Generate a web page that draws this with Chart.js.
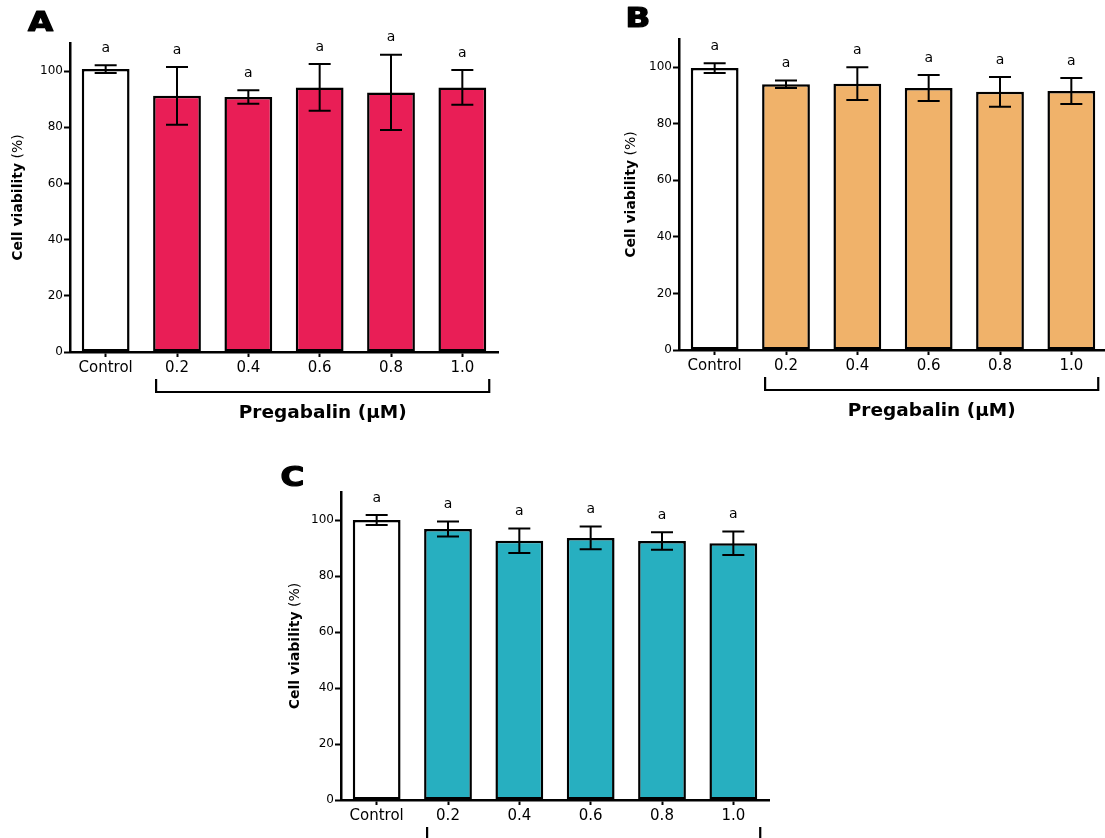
<!DOCTYPE html>
<html>
<head>
<meta charset="utf-8">
<script src="https://cdn.jsdelivr.net/npm/chart.js@4"></script>
<style>
    html, body { margin: 0; padding: 0; background: #fff; overflow: hidden; }
    body { width: 1105px; height: 838px; position: relative; }
    canvas { position: absolute; }
</style>
</head>
<body>
<canvas id="chart-a" width="540" height="440" style="left:0;top:0"></canvas>
<canvas id="chart-b" width="510" height="440" style="left:600px;top:0"></canvas>
<canvas id="chart-c" width="520" height="378" style="left:270px;top:460px"></canvas>
<script>
const categories = ['Control', '0.2', '0.4', '0.6', '0.8', '1.0'];
const yTicks = [0, 20, 40, 60, 80, 100];
const yMax = 110;
const sigLetters = ['a', 'a', 'a', 'a', 'a', 'a'];

const meanA = [100.7, 91.2, 90.8, 94.2, 92.4, 94.2];
const sdA = [1.4, 10.3, 2.4, 8.3, 13.4, 6.2];
const meanB = [99.7, 94.0, 94.2, 92.7, 91.3, 91.6];
const sdB = [1.7, 1.3, 5.8, 4.6, 5.3, 4.6];
const meanC = [100.0, 96.8, 92.6, 93.6, 92.5, 91.7];
const sdC = [1.8, 2.7, 4.4, 4.05, 3.1, 4.2];

const fontFamily = "'DejaVu Sans', 'Liberation Sans', sans-serif";

// per-panel layout (pixel boxes only, no data)
const panels = [
    { id: 'chart-a', letter: 'A', mean: meanA, sd: sdA, color: '#E91E56',
      pad: { left: 20, right: 42, top: 43, bottom: 58 }, letterPos: [40.5, 22.8], titleOffset: 52 },
    { id: 'chart-b', letter: 'B', mean: meanB, sd: sdB, color: '#F0B26A',
      pad: { left: 29, right: 3, top: 39, bottom: 60 }, letterPos: [38, 19.5], titleOffset: 48 },
    { id: 'chart-c', letter: 'C', mean: meanC, sd: sdC, color: '#27AFC0',
      pad: { left: 21, right: 21, top: 32, bottom: 8 }, letterPos: [22.5, 18.3], titleOffset: 46 },
];

const Y_AXIS_W = 50;
const X_AXIS_H = 30;

const decorPlugin = {
    id: 'decor',
    afterDatasetsDraw(chart, args, opts) {
        const { ctx, chartArea } = chart;
        const y = chart.scales.y;
        const meta = chart.getDatasetMeta(0);
        const mean = opts.mean;
        const sd = opts.sd;

        ctx.save();
        ctx.strokeStyle = '#000';
        ctx.lineWidth = 2;
        ctx.fillStyle = '#000';
        ctx.font = `14px ${fontFamily}`;
        ctx.textAlign = 'center';
        ctx.textBaseline = 'middle';
        meta.data.forEach((bar, i) => {
            const cx = bar.x;
            const yHi = y.getPixelForValue(mean[i] + sd[i]);
            const yLo = y.getPixelForValue(mean[i] - sd[i]);
            ctx.beginPath();
            ctx.moveTo(cx, yLo);
            ctx.lineTo(cx, yHi);
            ctx.moveTo(cx - 11, yHi);
            ctx.lineTo(cx + 11, yHi);
            ctx.moveTo(cx - 11, yLo);
            ctx.lineTo(cx + 11, yLo);
            ctx.stroke();
            ctx.fillText(sigLetters[i], cx, yHi - 17);
        });

        // bracket under the pregabalin doses
        const first = meta.data[1];
        const last = meta.data[meta.data.length - 1];
        const bx0 = first.x - first.width / 2 + 3;
        const bx1 = last.x + last.width / 2 + 3;
        const by0 = chartArea.bottom + 27;
        const by1 = chartArea.bottom + 40;
        ctx.lineWidth = 2.2;
        ctx.beginPath();
        ctx.moveTo(bx0, by0);
        ctx.lineTo(bx0, by1);
        ctx.lineTo(bx1, by1);
        ctx.lineTo(bx1, by0);
        ctx.stroke();

        ctx.font = `bold 18.5px ${fontFamily}`;
        ctx.fillText('Pregabalin (µM)', (bx0 + bx1) / 2, chartArea.bottom + 61);

        // y-axis title, bold + regular parts
        const tx = chartArea.left - opts.titleOffset;
        const ty = (chartArea.top + chartArea.bottom) / 2;
        ctx.translate(tx, ty);
        ctx.rotate(-Math.PI / 2);
        const boldPart = 'Cell viability';
        const normPart = ' (%)';
        ctx.font = `bold 14px ${fontFamily}`;
        const wb = ctx.measureText(boldPart).width;
        ctx.font = `14px ${fontFamily}`;
        const wn = ctx.measureText(normPart).width;
        ctx.textAlign = 'left';
        ctx.font = `bold 14px ${fontFamily}`;
        ctx.fillText(boldPart, -(wb + wn) / 2, 0);
        ctx.font = `14px ${fontFamily}`;
        ctx.fillText(normPart, -(wb + wn) / 2 + wb, 0);
        ctx.setTransform(1, 0, 0, 1, 0, 0);

        // panel letter
        ctx.translate(opts.letterPos[0], opts.letterPos[1]);
        ctx.scale(1.25, 1);
        ctx.font = `bold 26px ${fontFamily}`;
        ctx.textAlign = 'center';
        ctx.textBaseline = 'middle';
        ctx.lineWidth = 1.2;
        ctx.lineJoin = 'round';
        ctx.fillText(opts.letter, 0, 1);
        ctx.strokeText(opts.letter, 0, 1);
        ctx.restore();
    },
};

function buildPanel(p) {
    const canvas = document.getElementById(p.id);
    return new Chart(canvas, {
        type: 'bar',
        data: {
            labels: categories,
            datasets: [
                {
                    data: p.mean,
                    backgroundColor: categories.map((c, i) => (i === 0 ? '#ffffff' : p.color)),
                    borderColor: '#000',
                    borderWidth: 2.5,
                    borderSkipped: false,
                    categoryPercentage: 1,
                    barPercentage: 0.67,
                },
            ],
        },
        options: {
            responsive: false,
            animation: false,
            layout: { padding: p.pad },
            plugins: {
                legend: { display: false },
                tooltip: { enabled: false },
                decor: { mean: p.mean, sd: p.sd, letter: p.letter, letterPos: p.letterPos, titleOffset: p.titleOffset },
            },
            scales: {
                x: {
                    grid: { display: true, offset: false, drawOnChartArea: false, tickLength: 5, tickWidth: 2, tickColor: '#000' },
                    border: { display: true, color: '#000', width: 2.5 },
                    ticks: { font: { family: fontFamily, size: 15 }, color: '#000', padding: 2, maxRotation: 0 },
                    afterFit: (scale) => {
                        scale.height = X_AXIS_H;
                        scale.paddingLeft = 0;
                        scale.paddingRight = 0;
                    },
                },
                y: {
                    min: 0,
                    max: yMax,
                    grid: { display: true, drawOnChartArea: false, tickLength: 6, tickWidth: 2, tickColor: '#000' },
                    border: { display: true, color: '#000', width: 2.5 },
                    ticks: { font: { family: fontFamily, size: 12 }, color: '#000', padding: 1 },
                    afterBuildTicks: (scale) => {
                        scale.ticks = yTicks.map((v) => ({ value: v }));
                    },
                    afterFit: (scale) => {
                        scale.width = Y_AXIS_W;
                        scale.paddingTop = 0;
                        scale.paddingBottom = 0;
                    },
                },
            },
        },
        plugins: [decorPlugin],
    });
}

panels.forEach(buildPanel);
</script>
</body>
</html>
